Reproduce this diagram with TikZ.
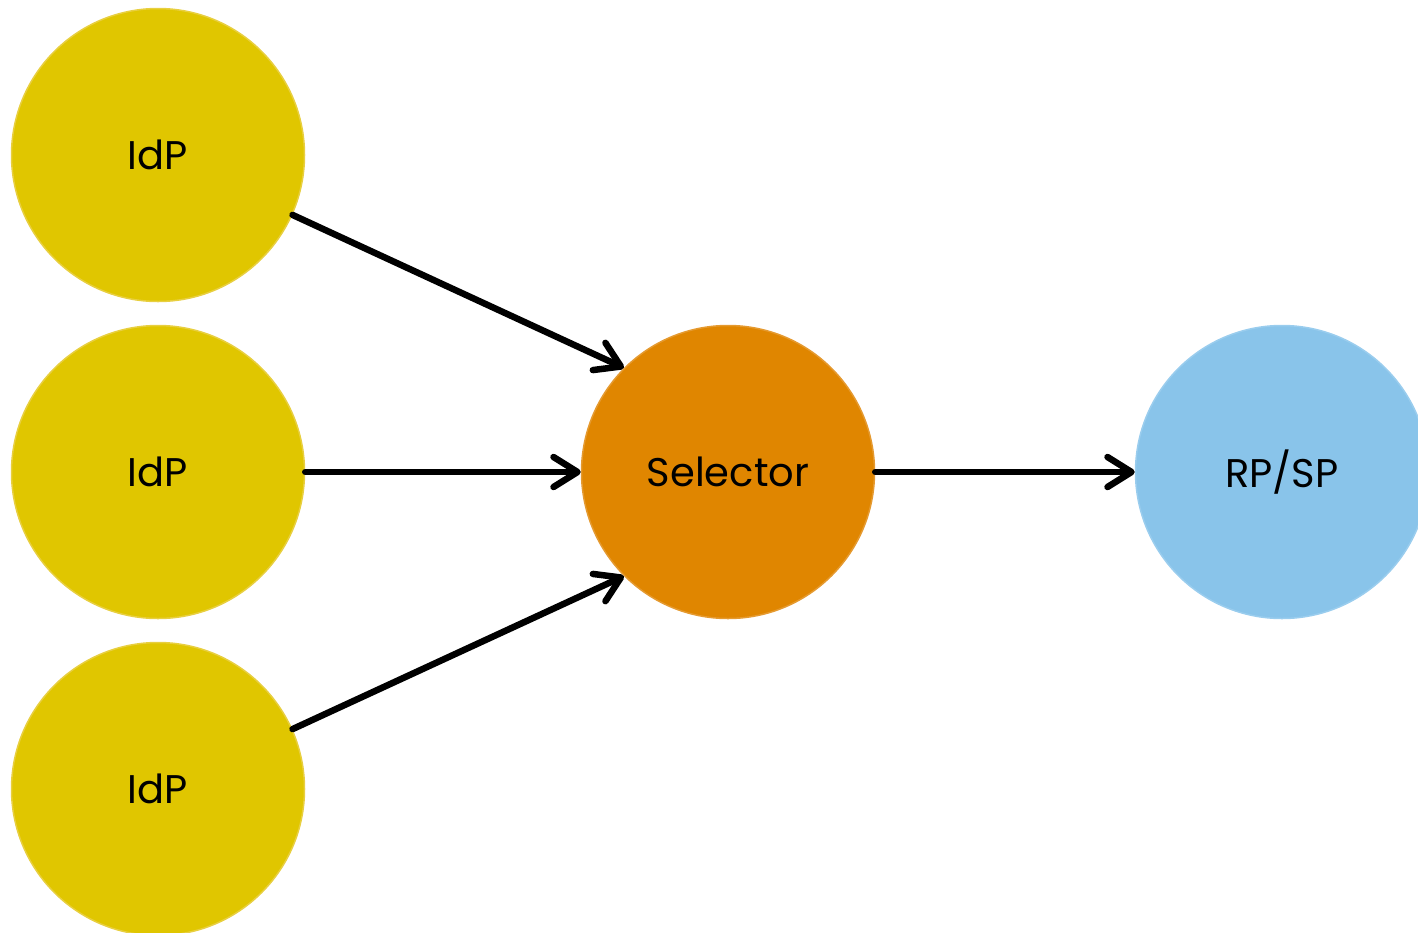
\documentclass[tikz,border=0pt]{standalone}
\usepackage{fontspec}
\setmainfont{Poppins}
\usetikzlibrary{arrows.meta}
\definecolor{idpc}{HTML}{E0C600}
\definecolor{idpb}{HTML}{E8CF40}
\definecolor{selc}{HTML}{E08600}
\definecolor{selb}{HTML}{E59A30}
\definecolor{rpc}{HTML}{89C4EA}
\definecolor{rpb}{HTML}{9ACDEE}
\tikzset{
  blob/.style={circle, minimum size=293pt, inner sep=0pt, line width=1.5pt, font=\fontsize{40}{44}\selectfont},
  idp/.style={blob, fill=idpc, draw=idpb},
  sel/.style={blob, fill=selc, draw=selb},
  rp/.style={blob, fill=rpc, draw=rpb},
  conn/.style={line width=6.5pt, line cap=round, -{Straight Barb[length=24pt, width=30pt, round]}}
}
\begin{document}
\begin{tikzpicture}[x=1pt, y=-1pt]
\useasboundingbox (0,0) rectangle (1418,932);
\clip (0,0) rectangle (1418,932);
\node[idp] (i1) at (158,155) {IdP};
\node[idp] (i2) at (158,472) {IdP};
\node[idp] (i3) at (158,789) {IdP};
\node[sel] (s) at (728,472) {Selector};
\node[rp] (r) at (1282,472) {RP/SP};
\draw[conn] (i1.-24) -- (s.135);
\draw[conn] (i2.east) -- (s.west);
\draw[conn] (i3.24) -- (s.-135);
\draw[conn] (s.east) -- (r.west);
\end{tikzpicture}
\end{document}
